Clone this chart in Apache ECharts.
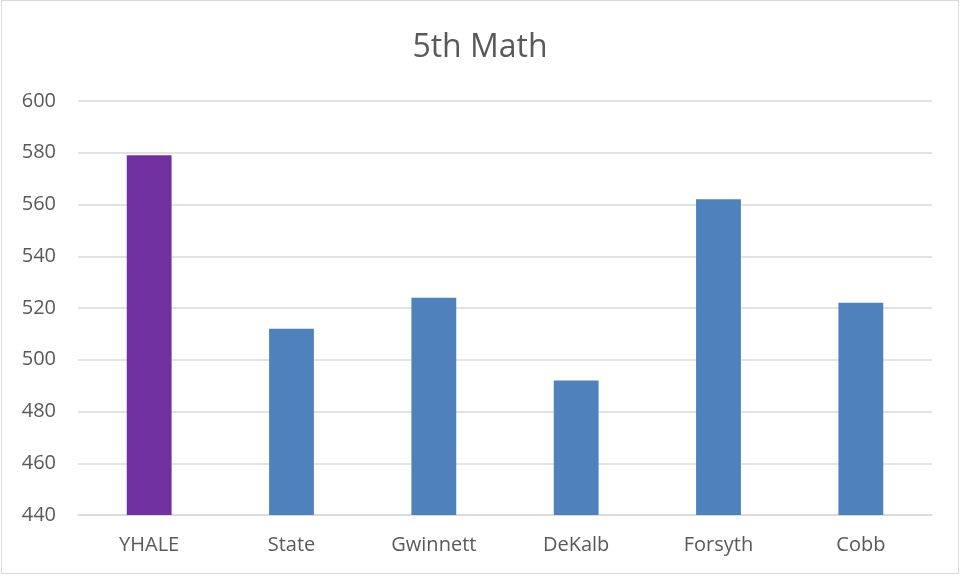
<!DOCTYPE html>
<html>
<head>
<meta charset="utf-8">
<script src="https://cdn.jsdelivr.net/npm/echarts@6/dist/echarts.min.js"></script>
<style>
  html, body { margin: 0; padding: 0; background: #fff; }
  #chart { position: absolute; left: 1px; top: 0; width: 958px; height: 574px; border: 1px solid #d9d9d9; box-sizing: border-box; }
</style>
</head>
<body>
<div id="chart"></div>
<script>
const categories = ['YHALE', 'State', 'Gwinnett', 'DeKalb', 'Forsyth', 'Cobb']
const scores = [579, 512, 524, 492, 562, 522]
const barColors = ['#7030A0', '#4F81BD', '#4F81BD', '#4F81BD', '#4F81BD', '#4F81BD']

const myChart = echarts.init(document.getElementById('chart'))
const option = {
  animation: false,
  textStyle: { fontFamily: 'Open Sans' },
  title: {
    text: '5th Math',
    left: 'center',
    top: 26,
    textStyle: { fontSize: 32, fontWeight: 'normal', color: '#595959', fontFamily: 'Open Sans' }
  },
  grid: { left: 76, right: 26, top: 100, bottom: 58 },
  xAxis: {
    type: 'category',
    data: categories,
    axisTick: { show: false },
    axisLine: { lineStyle: { color: '#d9d9d9', width: 1.5 } },
    axisLabel: { color: '#595959', fontSize: 20, margin: 20 }
  },
  yAxis: {
    type: 'value',
    min: 440,
    max: 600,
    interval: 20,
    axisLine: { show: false },
    axisTick: { show: false },
    splitLine: { lineStyle: { color: '#d9d9d9', width: 1.5 } },
    axisLabel: { color: '#595959', fontSize: 20, margin: 22 }
  },
  series: [{
    type: 'bar',
    barWidth: '31.5%',
    data: scores.map((v, i) => ({ value: v, itemStyle: { color: barColors[i] } }))
  }]
}
myChart.setOption(option)
</script>
</body>
</html>
